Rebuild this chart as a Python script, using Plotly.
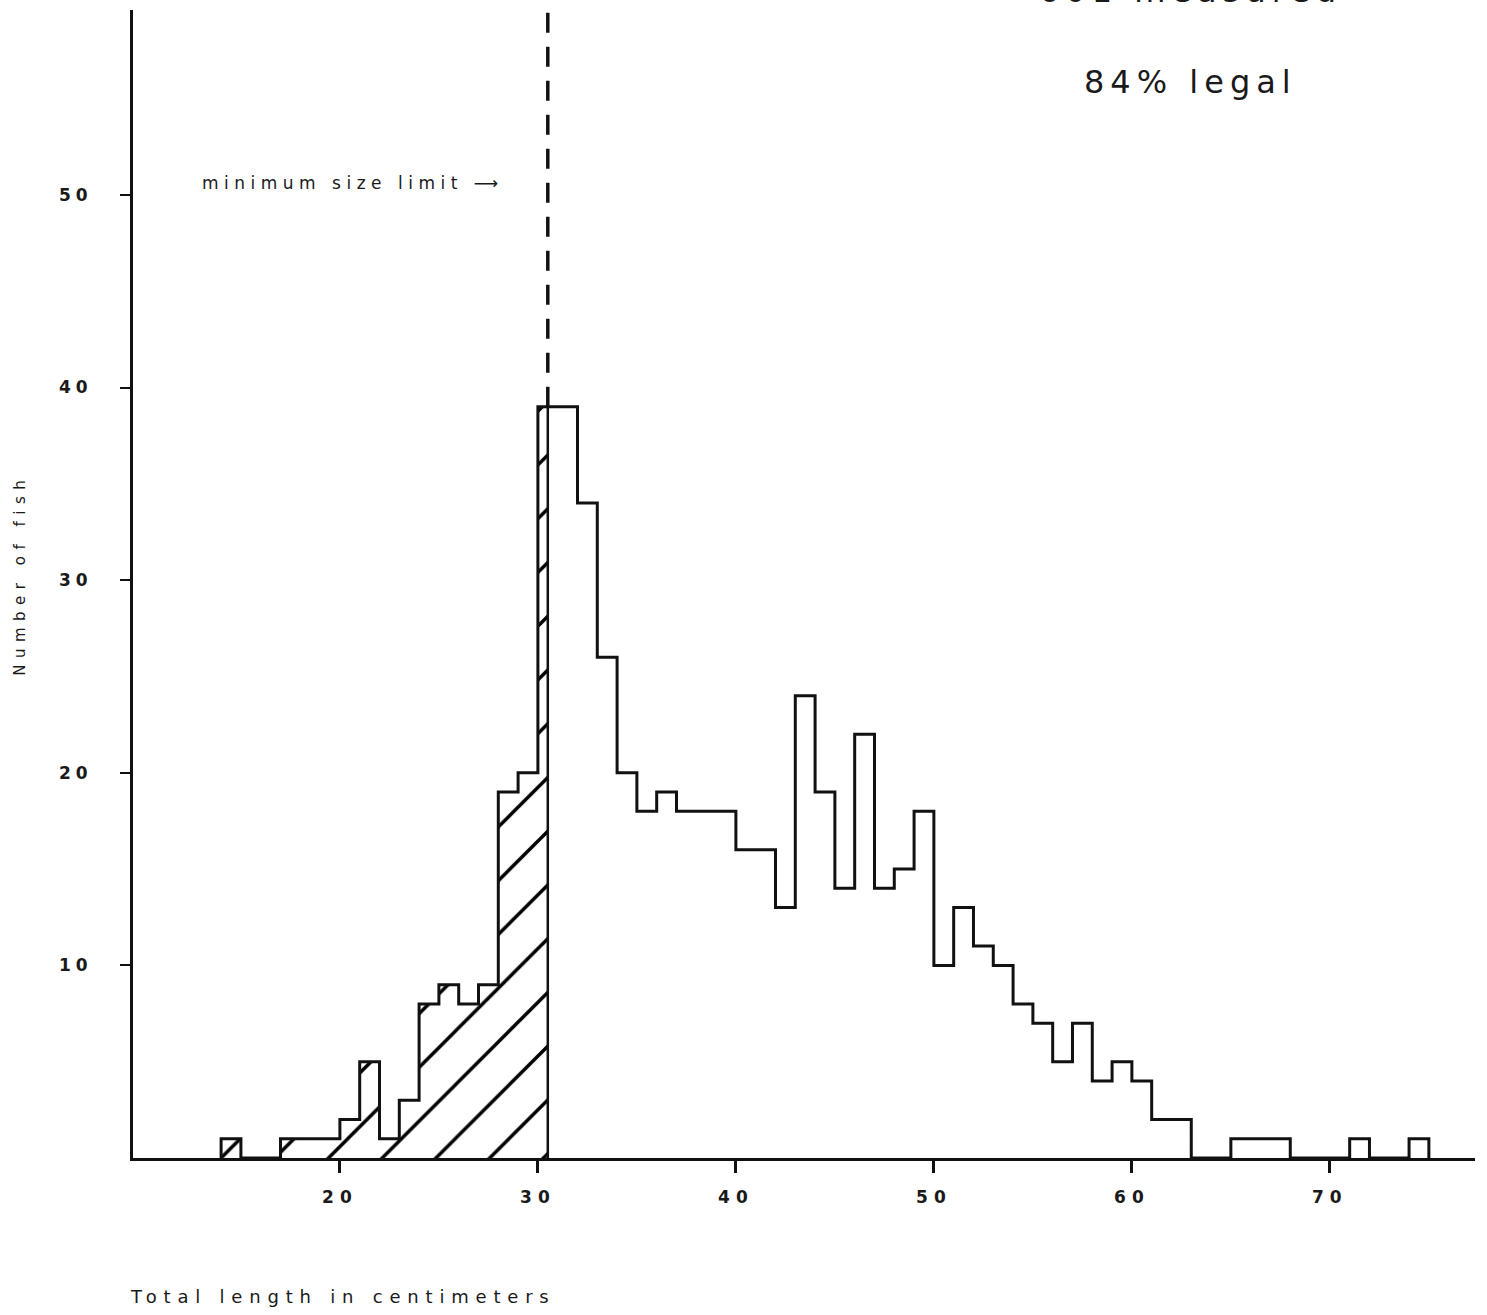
import plotly.graph_objects as go

# ---- data (1-cm length classes, lower edge in cm) ----
LOWER_EDGES = list(range(14, 75))
COUNTS = [1, 0, 0, 1, 1, 1, 2, 5, 1, 3, 8, 9, 8, 9, 19, 20,
          39, 39, 34, 26, 20, 18, 19, 18, 18, 18, 16, 16, 13, 24, 19,
          14, 22, 14, 15, 18, 10, 13, 11, 10, 8, 7, 5, 7, 4, 5, 4,
          2, 2, 0, 0, 1, 1, 1, 0, 0, 0, 1, 0, 0, 1]
BIN_WIDTH = 1
MIN_SIZE_LIMIT = 30.5
X_TICKS = [20, 30, 40, 50, 60, 70]
Y_TICKS = [10, 20, 30, 40, 50]
LEGAL_TEXT = "84% legal"

INK = "#111111"
TXT = "#1a1a1a"
FONT = "DejaVu Sans"


def spaced(text, px):
    return f'<span style="letter-spacing:{px}px">{text}</span>'


# step outline built from bin edges
xs = [LOWER_EDGES[0]] + LOWER_EDGES + [LOWER_EDGES[-1] + BIN_WIDTH]
ys = [0] + COUNTS + [0]

# sub-legal (hatched) portion
h_x, h_y, h_w = [], [], []
for lo, c in zip(LOWER_EDGES, COUNTS):
    if lo >= MIN_SIZE_LIMIT:
        break
    hi = min(lo + BIN_WIDTH, MIN_SIZE_LIMIT)
    h_x.append((lo + hi) / 2)
    h_y.append(c)
    h_w.append(hi - lo)
limit_count = h_y[-1]

fig = go.Figure()
fig.add_trace(go.Bar(
    x=h_x, y=h_y, width=h_w, opacity=1,
    marker=dict(color="white", opacity=1, line=dict(width=0),
                pattern=dict(shape="/", fgcolor="#000000", bgcolor="white",
                             fgopacity=1, size=38, solidity=0.09)),
    hoverinfo="skip", showlegend=False,
))
# boundary of hatched region
fig.add_trace(go.Scatter(
    x=[MIN_SIZE_LIMIT, MIN_SIZE_LIMIT], y=[0, limit_count], mode="lines",
    line=dict(color=INK, width=2.5), showlegend=False, hoverinfo="skip",
))
# histogram outline
fig.add_trace(go.Scatter(
    x=xs, y=ys, mode="lines", line=dict(color=INK, width=3, shape="hv"),
    showlegend=False, hoverinfo="skip",
))

Y_TOP = 59.6
# dashed minimum-size-limit line
fig.add_trace(go.Scatter(
    x=[MIN_SIZE_LIMIT, MIN_SIZE_LIMIT], y=[limit_count, Y_TOP], mode="lines",
    line=dict(color=INK, width=3.5, dash="20px,14px"),
    showlegend=False, hoverinfo="skip", cliponaxis=False,
))

tickfont = dict(family=FONT, size=17, color=TXT, weight="bold")
fig.update_layout(
    width=1487, height=1315,
    margin=dict(l=133, r=12, t=10, b=157),
    paper_bgcolor="white", plot_bgcolor="white",
    barmode="overlay", bargap=0,
    xaxis=dict(range=[9.55, 77.33], showgrid=False, zeroline=False,
               automargin=False,
               showline=True, linecolor=INK, linewidth=2.5,
               tickmode="array", tickvals=X_TICKS,
               ticktext=[spaced(str(v), 6) for v in X_TICKS],
               ticks="outside", ticklen=12, tickwidth=3, tickcolor=INK,
               ticklabelstandoff=10, tickfont=tickfont),
    yaxis=dict(range=[0, Y_TOP], showgrid=False, zeroline=False,
               automargin=False,
               showline=True, linecolor=INK, linewidth=3,
               tickmode="array", tickvals=Y_TICKS,
               ticktext=[spaced(str(v), 5) for v in Y_TICKS],
               ticks="outside", ticklen=10, tickwidth=2, tickcolor=INK,
               ticklabelstandoff=24, tickfont=tickfont),
)

total = sum(COUNTS)
fig.add_annotation(
    text=spaced("Total length in centimeters", 6.8),
    xref="paper", yref="paper", x=0, y=0, xanchor="left", yanchor="middle",
    xshift=-5, yshift=-138, showarrow=False,
    font=dict(family=FONT, size=18, color=TXT),
)
fig.add_annotation(
    text=spaced("Number of fish", 6.5), textangle=-90,
    xref="paper", yref="paper", x=0, y=0.508, xanchor="center", yanchor="middle",
    xshift=-113, showarrow=False,
    font=dict(family=FONT, size=15, color=TXT),
)
fig.add_annotation(
    text=spaced("minimum size limit \u27f6", 5.5),
    xref="x", yref="y", x=MIN_SIZE_LIMIT, y=50.6, xanchor="right", yanchor="middle",
    xshift=-42, showarrow=False,
    font=dict(family=FONT, size=17, color=TXT),
)
fig.add_annotation(
    text=spaced(LEGAL_TEXT, 6),
    xref="paper", yref="paper", x=0.788, y=0.937, xanchor="center", yanchor="middle",
    showarrow=False, font=dict(family=FONT, size=32, color=TXT),
)
# partly cut off at the top edge, as in the original scan
fig.add_annotation(
    text=spaced(f"{total} measured", 6),
    xref="paper", yref="paper", x=0.788, y=1.0168, xanchor="center", yanchor="middle",
    showarrow=False, font=dict(family=FONT, size=32, color=TXT),
)

fig.write_html("out.html", config={"displayModeBar": False},
               post_script="document.body.style.margin='0';")
